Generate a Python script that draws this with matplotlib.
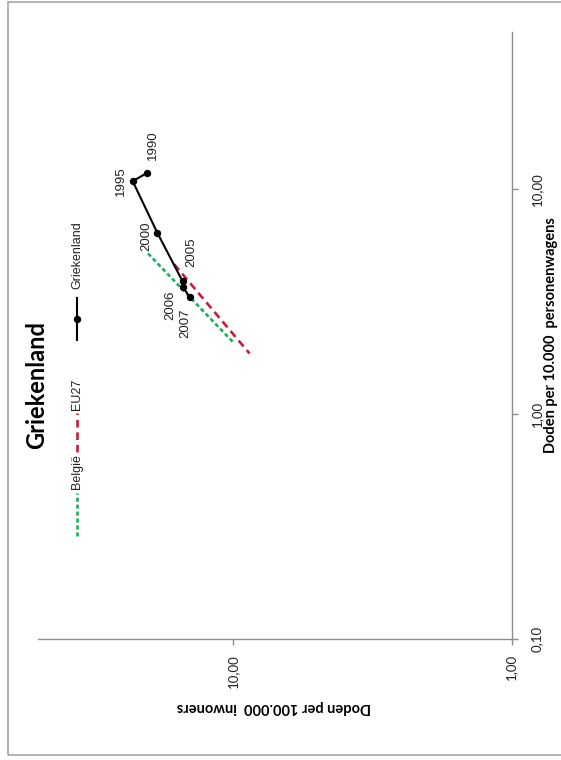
import matplotlib
matplotlib.use("Agg")
import matplotlib.pyplot as plt
from matplotlib.lines import Line2D
from matplotlib.patches import Rectangle
from matplotlib.ticker import FixedLocator, FixedFormatter, NullLocator

plt.rcParams['font.family'] = ['Lato', 'DejaVu Sans']
plt.rcParams['lines.scale_dashes'] = False

# Road deaths: per 100.000 inhabitants (horizontal) vs per 10.000 passenger cars (vertical)
belgie_inwoners = [20.1, 10.0]
belgie_wagens = [5.18, 2.10]

eu27_inwoners = [16.2, 8.69]
eu27_wagens = [4.64, 1.86]

gr_jaren = ['1990', '1995', '2000', '2005', '2006', '2007']
gr_inwoners = [20.3, 22.8, 18.6, 15.1, 15.1, 14.2]
gr_wagens = [11.8, 10.85, 6.39, 3.89, 3.68, 3.30]

inw_ticks = [1, 10]
inw_labels = ['1,00', '10,00']
wagen_ticks = [0.1, 1, 10]
wagen_labels = ['0,10', '1,00', '10,00']

W, H = 561, 760
fig = plt.figure(figsize=(W / 100, H / 100), dpi=100)


def fx(px):
    return px / W


def fy(py):
    return 1 - py / H


ax = fig.add_axes([fx(37.6), fy(639), fx(511.5) - fx(37.6), fy(32) - fy(639)])
ax.set_xscale('log')
ax.set_yscale('log')
ax.set_xlim(50, 1)
ax.set_ylim(0.1, 50)

axis_grey = '#8c8c8c'
for side in ('left', 'top'):
    ax.spines[side].set_visible(False)
for side in ('right', 'bottom'):
    ax.spines[side].set_color(axis_grey)
    ax.spines[side].set_linewidth(1.0)

ax.yaxis.tick_right()
ax.xaxis.set_major_locator(FixedLocator(inw_ticks))
ax.xaxis.set_major_formatter(FixedFormatter(inw_labels))
ax.yaxis.set_major_locator(FixedLocator(wagen_ticks))
ax.yaxis.set_major_formatter(FixedFormatter(wagen_labels))
ax.xaxis.set_minor_locator(NullLocator())
ax.yaxis.set_minor_locator(NullLocator())
ax.tick_params(axis='both', which='major', direction='out', length=4, width=1,
               color=axis_grey, labelsize=9.5, labelcolor='#222222')
ax.tick_params(axis='x', labelrotation=90, pad=7)
ax.tick_params(axis='y', labelrotation=90, pad=10)
for lab in ax.get_yticklabels():
    lab.set_va('center')

green = '#1fae5f'
red = '#c41e3a'

ax.plot(belgie_inwoners, belgie_wagens, color=green, lw=1.9,
        linestyle=(0, (3, 2)), zorder=2)
ax.plot(eu27_inwoners, eu27_wagens, color=red, lw=1.9,
        linestyle=(0, (5.5, 3.5)), zorder=2)
ax.plot(gr_inwoners, gr_wagens, color='black', lw=1.5, marker='o',
        markersize=4.3, zorder=3)

label_offsets = [(6, 28), (-12, 0), (-11, -3), (9, 29), (-12, -18), (-5, -26)]
for jaar, xi, yi, (dx, dy) in zip(gr_jaren, gr_inwoners, gr_wagens, label_offsets):
    ax.annotate(jaar, (xi, yi), xytext=(dx, dy), textcoords='offset pixels',
                rotation=90, ha='center', va='center', fontsize=9.5,
                family=['Liberation Sans', 'DejaVu Sans'], color='#222222')

# Axis titles
fig.text(fx(274), fy(707), 'Doden per 100.000  inwoners', rotation=180,
         ha='center', va='center', fontsize=10.5, fontweight='bold')
fig.text(fx(551.5), fy(335), 'Doden per 10.000  personenwagens', rotation=90,
         ha='center', va='center', fontsize=10.5, fontweight='bold')

# Chart title
fig.text(fx(36.7), fy(385), 'Griekenland', rotation=90, ha='center',
         va='center', fontsize=17, fontweight='bold')

# Legend (vertical layout)
lx = fx(77)
leg_font = dict(rotation=90, ha='center', va='center', fontsize=9,
                family=['Liberation Sans', 'DejaVu Sans'], color='#222222')
fig.add_artist(Line2D([lx, lx], [fy(536), fy(493)], transform=fig.transFigure,
                      color=green, lw=1.9, linestyle=(0, (3, 2))))
fig.text(lx, fy(472), 'België', **leg_font)
fig.add_artist(Line2D([lx, lx], [fy(452), fy(413)], transform=fig.transFigure,
                      color=red, lw=1.9, linestyle=(0, (5.5, 3.5))))
fig.text(lx, fy(394.5), 'EU27', **leg_font)
fig.add_artist(Line2D([lx, lx], [fy(340), fy(298)], transform=fig.transFigure,
                      color='black', lw=1.5))
fig.add_artist(Line2D([lx], [fy(319)], transform=fig.transFigure,
                      color='black', marker='o', markersize=4.3, lw=0))
fig.text(lx, fy(255.5), 'Griekenland', **leg_font)

# Outer chart frame
fig.add_artist(Rectangle((fx(8), fy(755)), 1.2, fy(2) - fy(755),
                         transform=fig.transFigure, fill=False,
                         edgecolor='#a6a6a6', lw=1.2, clip_on=False))

fig.savefig('out.png', dpi=100)
